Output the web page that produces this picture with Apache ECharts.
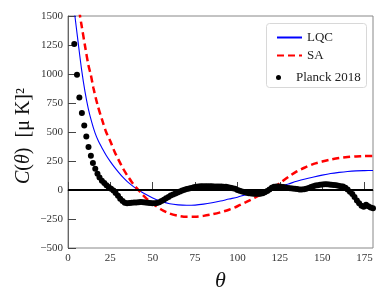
<!DOCTYPE html>
<html><head><meta charset="utf-8">
<script src="https://cdn.jsdelivr.net/npm/echarts@6/dist/echarts.min.js"></script>
<style>html,body{margin:0;padding:0;background:#fff}#c{width:388px;height:305px}</style>
</head><body><div id="c"></div>
<script>
// theta (deg), LQC
const lqcTheta = [3.5,4,6,8,10,12,14,16,18,20,22.5,25,27.5,30,32.5,35,37.5,40,42.5,45,50,55,60,65,70,75,80,85,90,95,100,105,110,115,120,125,130,135,140,145,150,155,160,165,170,175,180];
const lqcVals  = [1570,1510,1270,1040,850,700,585,490,420,365,300,245,195,150,108,72,42,15,-8,-30,-68,-98,-118,-128,-132,-130,-122,-110,-95,-78,-62,-40,-22,-7,8,30,52,75,95,112,128,142,152,160,165,167,168];
// SA
const saTheta = [6,7.1,8,10,12,13.5,15,17.5,20,22.5,25,27.5,30,32.5,35,37.5,40,42.5,45,47.5,50,55,60,65,70,75,80,85,90,95,100,105,110,115,120,125,130,135,140,145,150,155,160,165,170,175,180];
const saVals  = [1640,1500,1420,1246,1080,990,880,730,610,500,420,330,255,185,125,72,25,-15,-55,-90,-118,-168,-203,-222,-230,-230,-223,-210,-192,-170,-140,-105,-68,-30,8,58,112,160,195,225,245,262,275,284,289,292,293];
// Planck 2018
const planckTheta = [3.7,5.3,6.7,8.2,9.6,10.8,12.1,13.5,14.7,16.1,17.4,18.6,20.0,21.4,22.7,24.0,25.4,26.8,28.1,29.5,30.8,32.2,33.5,34.9,36.3,37.6,39.0,40.3,41.7,43.0,44.4,45.7,47.1,48.4,49.8,51.2,52.5,53.9,55.2,56.6,57.9,59.3,60.6,62.0,63.4,64.7,66.1,67.4,68.8,70.1,71.5,72.8,74.2,75.6,76.9,78.3,79.6,81.0,82.3,83.7,85.0,86.4,87.8,89.1,90.5,91.8,93.2,94.5,95.9,97.2,98.6,100.0,101.3,102.7,104.0,105.4,106.7,108.1,109.5,110.8,112.2,113.5,114.9,116.2,117.6,118.9,120.3,121.6,123.0,124.4,125.7,127.1,128.4,129.8,131.1,132.5,133.9,135.2,136.6,137.9,139.3,140.6,142.0,143.4,144.7,146.1,147.4,148.8,150.1,151.5,152.8,154.2,155.5,156.9,158.3,159.6,161.0,162.3,163.7,165.0,166.4,167.8,169.1,170.5,171.8,173.2,174.5,175.9,177.2,178.6,180.0];
const planckVals  = [1258,993,797,663,556,461,370,295,232,183,140,108,80,60,42,25,10,-5,-25,-50,-75,-95,-110,-115,-113,-110,-108,-107,-105,-104,-105,-107,-110,-113,-115,-115,-112,-105,-95,-85,-72,-60,-48,-38,-30,-22,-14,-5,2,8,13,18,23,27,30,32,33,33,33,32,32,31,31,31,30,29,27,24,20,15,10,0,-6,-12,-18,-23,-27,-30,-32,-33,-33,-32,-28,-20,-8,5,20,28,30,30,28,25,22,18,15,12,10,8,5,4,6,10,18,25,32,38,42,46,48,50,50,48,46,43,40,36,33,30,20,5,-15,-35,-60,-90,-115,-135,-145,-128,-140,-150,-158];
const xTicks = {min:0, max:180, interval:25};
const yTicks = {min:-500, max:1500, interval:250};

const zip = (a,b)=>a.map((t,i)=>[t,b[i]]);
const serif = 'Liberation Serif';
const fmt = v => v<0 ? '\u2212'+(-v) : String(v);

const chart = echarts.init(document.getElementById('c'));
chart.setOption({
  animation:false,
  grid:{left:68,right:15,top:16,bottom:57,show:true,borderColor:'#888',borderWidth:1},
  xAxis:{type:'value',min:xTicks.min,max:xTicks.max,interval:xTicks.interval,
    name:'θ',nameLocation:'middle',nameGap:22,nameMoveOverlap:false,
    nameTextStyle:{fontFamily:serif,fontStyle:'italic',fontSize:22,color:'#111'},
    axisLine:{lineStyle:{color:'#666'}},
    axisTick:{inside:true,length:8,lineStyle:{color:'#444'}},
    axisLabel:{fontFamily:serif,fontSize:11,color:'#333',margin:5,showMaxLabel:false,formatter:fmt},
    splitLine:{show:false}},
  yAxis:{type:'value',min:yTicks.min,max:yTicks.max,interval:yTicks.interval,
    name:'{i|C}({i|θ})  [μ K]²',nameLocation:'middle',nameGap:34,nameRotate:90,nameMoveOverlap:false,
    nameTextStyle:{fontFamily:serif,fontSize:20,color:'#111',padding:[0,8,0,0],rich:{i:{fontFamily:serif,fontStyle:'italic',fontSize:20,color:'#111'}}},
    axisLine:{lineStyle:{color:'#666'}},
    axisTick:{inside:true,length:8,lineStyle:{color:'#444'}},
    axisLabel:{fontFamily:serif,fontSize:11,color:'#333',margin:5,formatter:fmt},
    splitLine:{show:false}},
  legend:[
    {data:['LQC','SA'],orient:'vertical',left:271,top:26,itemWidth:25,itemHeight:14,itemGap:5,
     itemStyle:{opacity:0},
     textStyle:{fontFamily:serif,fontSize:13,color:'#222',padding:[0,0,0,0]}},
    {data:['Planck 2018'],orient:'vertical',left:271,top:66,itemWidth:25,itemHeight:5,
     textStyle:{fontFamily:serif,fontSize:13,color:'#222',padding:[0,0,0,0]}}
  ],
  graphic:[{type:'rect',shape:{x:266.5,y:23.5,width:100,height:64,r:3},
    style:{fill:'#fff',stroke:'#d8d8d8',lineWidth:1},z:3}],
  series:[
    {name:'LQC',type:'line',data:zip(lqcTheta,lqcVals),smooth:0.3,showSymbol:false,symbol:'none',
     lineStyle:{color:'#0000ff',width:1.1},itemStyle:{color:'#0000ff'},z:3,
     markLine:{silent:true,symbol:'none',label:{show:false},data:[{yAxis:0}],
       lineStyle:{color:'#000',width:2,type:'solid'}}},
    {name:'SA',type:'line',data:zip(saTheta,saVals),smooth:0.3,showSymbol:false,symbol:'none',
     lineStyle:{color:'#ff0000',width:2.5,type:[7,4]},itemStyle:{color:'#ff0000'},z:3},
    {name:'Planck 2018',type:'scatter',data:zip(planckTheta,planckVals),symbolSize:6,
     itemStyle:{color:'#000',opacity:1},z:4}
  ]
});
</script></body></html>
